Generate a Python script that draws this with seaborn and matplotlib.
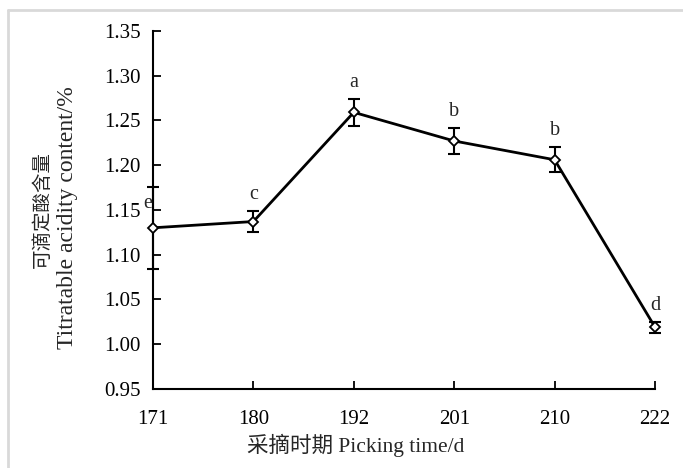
import matplotlib
matplotlib.use('Agg')
import matplotlib.pyplot as plt
import seaborn as sns
import pandas as pd
import numpy as np
from matplotlib.lines import Line2D

# dados
dias = ['171', '180', '192', '201', '210', '222']
acidez = [1.130, 1.137, 1.259, 1.227, 1.206, 1.019]
erro = [0.046, 0.012, 0.015, 0.015, 0.014, 0.006]
letras = ['e', 'c', 'a', 'b', 'b', 'd']

df = pd.DataFrame({'dia': dias, 'acidez': acidez})

sns.set_style('white')
plt.rcParams['font.family'] = ['Liberation Serif', 'Noto Sans CJK SC']

fig = plt.figure(figsize=(6.83, 4.68), dpi=100)
ax = fig.add_axes([0.224, 0.169, 0.735, 0.765])

pos = np.arange(len(dias))
eb = ax.errorbar(pos, acidez, yerr=erro, fmt='none', ecolor='black',
                 elinewidth=1.5, capsize=4, capthick=1.5, zorder=2)
for art in eb.lines[1] + eb.lines[2]:
    art.set_clip_on(False)
sns.pointplot(data=df, x='dia', y='acidez', ax=ax, color='black',
              errorbar=None, markers='D', linewidth=2.0,
              markersize=5, markerfacecolor='white',
              markeredgecolor='black', markeredgewidth=1.3)
for ln in ax.lines:
    ln.set_zorder(3)
    ln.set_clip_on(False)

# letras de significancia
for i, (m, e, l) in enumerate(zip(acidez, erro, letras)):
    if i == 0:
        ax.annotate(l, (i, m), xytext=(-4, 11), textcoords='offset points',
                    ha='center', va='bottom', fontsize=14.5, annotation_clip=False)
    else:
        ax.annotate(l, (i, m + e), xytext=(0, 5), textcoords='offset points',
                    ha='center', va='bottom', fontsize=14.5, annotation_clip=False)

ax.set_xlim(0, len(dias) - 1)
ax.set_ylim(0.95, 1.35)
ax.set_yticks(np.arange(0.95, 1.351, 0.05))
ax.yaxis.set_major_formatter(matplotlib.ticker.FormatStrFormatter('%.2f'))
ax.set_xticks(pos)
ax.set_xticklabels(dias)
ax.tick_params(axis='both', direction='in', length=6, width=1.3,
               labelsize=15, color='black', labelcolor='black',
               left=True, bottom=True)
ax.tick_params(axis='x', pad=15)
ax.tick_params(axis='y', pad=9)
for s in ['top', 'right']:
    ax.spines[s].set_visible(False)
for s in ['left', 'bottom']:
    ax.spines[s].set_color('black')
    ax.spines[s].set_linewidth(1.5)

ax.set_xlabel('采摘时期 Picking time/d', fontsize=15.5, va='center')
ax.xaxis.set_label_coords(0.404, -0.158)
ax.set_ylabel('')

# rotulo do eixo y em duas linhas
ax.text(-0.22, 0.5, '可滴定酸含量', transform=ax.transAxes, rotation=90,
        ha='center', va='center', fontsize=14)
ax.text(-0.171, 0.478, 'Titratable acidity content/%', transform=ax.transAxes,
        rotation=90, ha='center', va='center', fontsize=17)

# moldura cinza da figura
fig.add_artist(Line2D([0.012, 0.012], [0.0, 0.979], color='#d9d9d9', lw=2))
fig.add_artist(Line2D([0.012, 1.0], [0.979, 0.979], color='#d9d9d9', lw=2))

fig.savefig('out.png', dpi=100)
